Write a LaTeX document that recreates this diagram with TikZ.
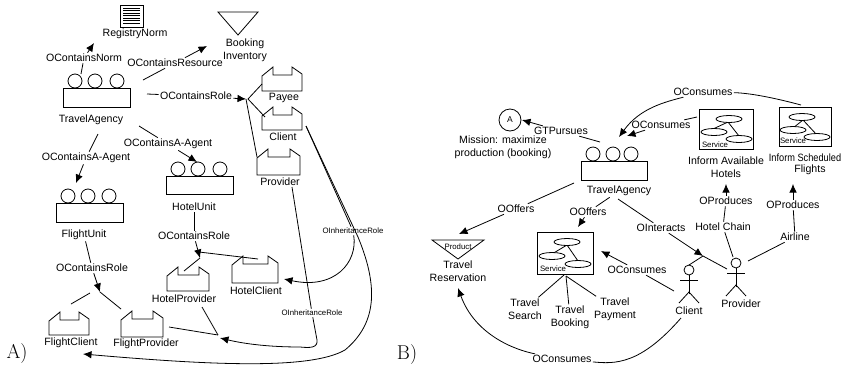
\documentclass[tikz,border=0pt]{standalone}
\usepackage{fontspec}
\setsansfont{Liberation Sans}
\usetikzlibrary{arrows.meta}

\tikzset{
	lbl/.style={inner sep=1pt, align=center, font=\fontsize{10.6}{12.8}\selectfont\sffamily},
	tiny lbl/.style={inner sep=1pt, font=\fontsize{7.8}{9}\selectfont\sffamily},
	letter/.style={inner sep=0pt, font=\fontsize{20}{24}\selectfont},
	tip/.style={-{Latex[length=8.5pt,width=7.5pt]}}
}
\newcommand{\rolebox}[4]{\draw (#1,#4) -- (#1,#3+9) -- (#1+11,#3) -- (#1+11,#3+8) -- (#2-10,#3+8) -- (#2-10,#3) -- (#2,#3+7) -- (#2,#4) -- cycle;}
\newcommand{\unitbox}[7]{
	\draw (#1,#2) rectangle (#3,#4);
	\foreach \cx in {#5,#6,#7}
		\draw (\cx,#2-7) circle (7);
}
\newcommand{\servicebox}[9]{
	\draw (#1,#2) rectangle (#3,#4);
	\draw (#5,#6) -- (#7,#8);
	\draw (#5,#6) -- (#9,#8+7);
}
\newcommand{\actor}[2]{
	\draw (#1,#2) circle (5);
	\draw (#1,#2+5) -- (#1,#2+24);
	\draw (#1-9,#2+10) -- (#1+9,#2+10);
	\draw (#1-10,#2+33) -- (#1,#2+22) -- (#1+10,#2+33);
}

\begin{document}
\begin{tikzpicture}
	[x=1pt,y=-1pt,line width=.8pt]
	\useasboundingbox (0,0) rectangle (854,373);

	% A) organisation
	\draw (120,5) rectangle (143,27);
	\foreach \y in {8,10.5,...,25}
		\draw[line width=.5pt] (123,\y) -- (140,\y);
	\draw (218,12) -- (258,12) -- (238,35) -- cycle;
	\unitbox{63}{88}{130}{107}{75}{95}{117}
	\unitbox{166}{176}{233}{194}{178}{198}{220}
	\unitbox{56}{203}{123}{222}{68}{88}{109}
	\rolebox{262}{302}{67}{91}
	\rolebox{262}{302}{107}{130}
	\rolebox{257}{300}{149}{175}
	\rolebox{49}{89}{312}{335}
	\rolebox{121}{163}{311}{337}
	\rolebox{167}{209}{267}{291}
	\rolebox{232}{278}{256}{283}

	\node[lbl] (regnorm) at (135,34) {RegistryNorm};
	\node[lbl] (inventory) at (245,50) {Booking\\Inventory};
	\node[lbl] (agency) at (91,120) {TravelAgency};
	\node[lbl] (payee) at (284,98) {Payee};
	\node[lbl] (client) at (283,137) {Client};
	\node[lbl] (provider) at (280,182) {Provider};
	\node[lbl] (hotelunit) at (194,207) {HotelUnit};
	\node[lbl] (flightunit) at (84,235) {FlightUnit};
	\node[lbl] (hotelclient) at (256,291) {HotelClient};
	\node[lbl] (hotelprov) at (184,299) {HotelProvider};
	\node[lbl] (flightclient) at (71,343) {FlightClient};
	\node[lbl] (flightprov) at (146,344) {FlightProvider};

	\node[lbl] (cnorm) at (84,58) {OContainsNorm};
	\node[lbl] (cres) at (175,63) {OContainsResource};
	\node[lbl] (crole) at (196,96) {OContainsRole};
	\node[lbl] (cagent1) at (168,144) {OContainsA-Agent};
	\node[lbl] (cagent2) at (86,158) {OContainsA-Agent};
	\node[lbl] (crole1) at (92,268) {OContainsRole};
	\node[lbl] (crole2) at (194,236) {OContainsRole};
	\node[tiny lbl] (inh1) at (353,231) {OInheritanceRole};
	\node[tiny lbl] (inh2) at (312,313) {OInheritanceRole};
	\node[letter] (a) at (17,354) {A)};

	\coordinate (n1) at (81,74);
	\coordinate (n2) at (94,43);
	\coordinate (r1) at (143,80);
	\coordinate (r2) at (207,46);
	\coordinate (l1) at (147,94);
	\coordinate (hub) at (246,99);
	\coordinate (hub0) at (248,99);
	\coordinate (toPayee) at (262,84);
	\coordinate (toClient) at (265,117);
	\coordinate (toProv) at (257,157);
	\coordinate (g1) at (139,126);
	\coordinate (g2) at (197,162);
	\coordinate (g3) at (98,134);
	\coordinate (g4) at (76,183);
	\coordinate (h1) at (200,258);
	\coordinate (h2) at (199,252);
	\coordinate (toHC) at (258,259);
	\coordinate (toHP) at (184,271);
	\coordinate (f1) at (100,292);
	\coordinate (toFC1) at (90,293);
	\coordinate (toFC2) at (71,304);
	\coordinate (toFP) at (121,309);
	\coordinate (j1) at (218,335);
	\coordinate (fp1) at (169,327);
	\coordinate (p1) at (292,187);
	\coordinate (c1) at (306,126);
	\coordinate (c2) at (358,237);
	\coordinate (tipHC) at (284,279);
	\coordinate (tipHotel) at (220,338);
	\coordinate (tipFC) at (83,354);
	\coordinate (i1) at (202,307);

	\foreach \from/\to in {n1/cnorm,r1/cres,l1/crole,hub0/toPayee,hub0/toClient,hub/toProv,g1/cagent1,g3/cagent2,hotelunit/crole2,flightunit/crole1,h2/toHC,h1/toHP,toFC1/toFC2,f1/toFP,p1/inh2,c1/inh1,c1/c2,i1/j1,fp1/j1}
		\draw (\from) -- (\to);
	\foreach \from/\to in {cnorm/n2,cres/r2,crole/hub,cagent1/g2,cagent2/g4,crole1/f1,crole2/h1}
		\draw[tip] (\from) -- (\to);
	\draw[tip] (inh1) .. controls (358,262) and (335,290) .. (tipHC);
	\draw[tip] (c2) .. controls (380,290) and (375,325) .. (345,350) .. controls (310,370) and (210,365) .. (tipFC);
	\draw[tip] (inh2) -- (317,340) .. controls (318,348) and (310,348) .. (300,347) .. controls (270,347) and (245,344) .. (tipHotel);

	% B) scenario
	\draw (510,120) circle (11);
	\unitbox{581}{161}{647}{180}{593}{613}{631}
	\draw (432,240) -- (484,240) -- (458,259) -- cycle;
	\node[lbl] (goal) at (510,120) {\fontsize{8.5}{10}\selectfont A};

	\servicebox{699}{109}{753}{149}{728}{122}{713}{129}{739}
	\servicebox{779}{107}{831}{146}{803}{120}{793}{128}{817}
	\servicebox{537}{232}{593}{274}{567}{245}{552}{254}{578}
	\foreach \ex/\ey in {729/119,714/132,739/139,802/117,793/130,817/137,567/242,552/256,578/264}
		\draw[fill=white] (\ex,\ey) ellipse (13 and 3.5);
	\actor{689}{270}
	\actor{736}{263}

	\node[lbl] (mission) at (503,147) {Mission: maximize\\production (booking)};
	\node[lbl] (agencyb) at (619,191) {TravelAgency};
	\node[lbl] (informh) at (726,167) {Inform Available\\Hotels};
	\node[lbl] (informf) at (805,158) {\scalebox{.87}[1]{Inform Scheduled}};
	\node[lbl] (flights) at (810,170) {Flights};
	\node[lbl] (chain) at (723,227) {Hotel Chain};
	\node[lbl] (airline) at (795,237) {Airline};
	\node[lbl] (reserv) at (458,271) {Travel\\Reservation};
	\node[lbl] (search) at (525,309) {Travel\\Search};
	\node[lbl] (booking) at (570,317) {Travel\\Booking};
	\node[lbl] (payment) at (615,309) {Travel\\Payment};
	\node[lbl] (clientb) at (689,311) {Client};
	\node[lbl] (provb) at (741,304) {Provider};
	\node[tiny lbl] (svc1) at (715,145) {Service};
	\node[tiny lbl] (svc2) at (793,141) {Service};
	\node[tiny lbl] (svc3) at (553,269) {Service};
	\node[tiny lbl] (product) at (458,247) {Product};

	\node[lbl] (pursues) at (561,131) {GTPursues};
	\node[lbl] (cons1) at (703,92) {OConsumes};
	\node[lbl] (cons2) at (661,125) {OConsumes};
	\node[lbl] (prod1) at (726,201) {OProduces};
	\node[lbl] (prod2) at (793,205) {OProduces};
	\node[lbl] (offers1) at (516,209) {OOffers};
	\node[lbl] (offers2) at (588,212) {OOffers};
	\node[lbl] (interacts) at (661,228) {OInteracts};
	\node[lbl] (cons3) at (637,270) {OConsumes};
	\node[lbl] (cons4) at (562,359) {OConsumes};
	\node[letter] (b) at (407,355) {B)};

	\coordinate (p2) at (600,142);
	\coordinate (tipGoal) at (522,120);
	\coordinate (s2top) at (801,105);
	\coordinate (tipAg1) at (619,137);
	\coordinate (tipAg2) at (627,136);
	\coordinate (s1left) at (697,117);
	\coordinate (tipH) at (726,184);
	\coordinate (tipF) at (793,184);
	\coordinate (o1) at (574,183);
	\coordinate (tipProd) at (459,234);
	\coordinate (tipSvc) at (578,227);
	\coordinate (i2) at (618,199);
	\coordinate (jct) at (703,256);
	\coordinate (toProvb) at (727,269);
	\coordinate (toClientb) at (689,265);
	\coordinate (cl1) at (674,291);
	\coordinate (tipSvc2) at (601,251);
	\coordinate (chainEnd) at (733,257);
	\coordinate (airEnd) at (748,261);
	\coordinate (sv) at (564,275);
	\coordinate (sv2) at (566,276);
	\coordinate (clEnd) at (681,318);
	\coordinate (tipRes) at (458,288);

	\foreach \from/\to in {p2/pursues,s1left/cons2,o1/offers1,agencyb/offers2,i2/interacts,cl1/cons3,chain/prod1,airline/prod2,chain/chainEnd,airline/airEnd,jct/toProvb,jct/toClientb,sv/search,sv2/booking,sv2/payment}
		\draw (\from) -- (\to);
	\foreach \from/\to in {pursues/tipGoal,cons2/tipAg2,prod1/tipH,prod2/tipF,offers1/tipProd,offers2/tipSvc,interacts/jct,cons3/tipSvc2}
		\draw[tip] (\from) -- (\to);
	\draw (cons1) .. controls (750,93) and (775,98) .. (s2top);
	\draw[tip] (cons1) .. controls (665,102) and (640,108) .. (tipAg1);
	\draw[tip] (cons4) .. controls (515,350) and (475,335) .. (tipRes);
	\draw (cons4) .. controls (615,364) and (640,365) .. (clEnd);
\end{tikzpicture}
\end{document}
